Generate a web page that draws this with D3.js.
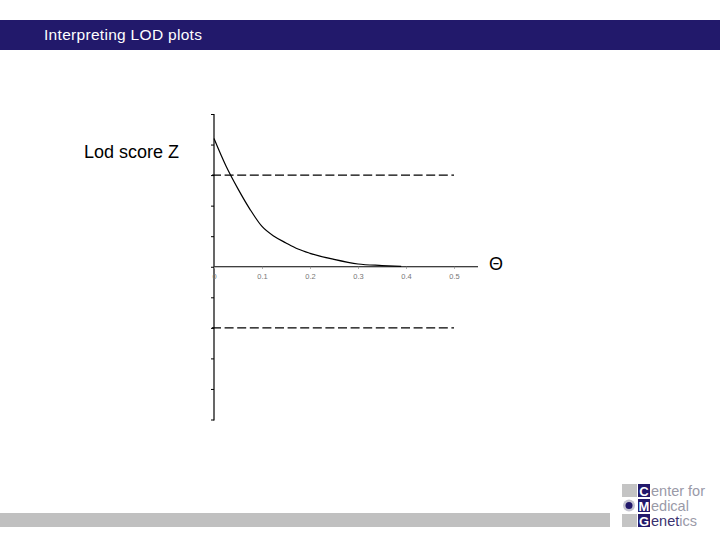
<!DOCTYPE html>
<html>
<head>
<meta charset="utf-8">
<script src="https://cdn.jsdelivr.net/npm/d3@7"></script>
<style>
  html, body { margin: 0; padding: 0; background: #fff; }
  svg { display: block; font-family: Arial, "Liberation Sans", sans-serif; }
</style>
</head>
<body>
<svg id="chart" width="720" height="540"></svg>
<script>
// ---- data ----
const title = "Interpreting LOD plots";
const yLabel = "Lod score Z";
const xLabel = "Θ";
const theta = [0, 0.025, 0.05, 0.075, 0.1, 0.125, 0.15, 0.175, 0.2, 0.25, 0.3, 0.35, 0.39];
const lod   = [4.2, 3.3, 2.55, 1.88, 1.32, 1.0, 0.78, 0.58, 0.44, 0.24, 0.09, 0.04, 0.01];
const thresholds = [3, -2];
const xTicks = [0, 0.1, 0.2, 0.3, 0.4, 0.5];
const xTickLabels = ["0", "0.1", "0.2", "0.3", "0.4", "0.5"];
const yTicks = [-5, -4, -3, -2, -1, 0, 1, 2, 3, 4, 5];
const logoLines = ["Center for", "Medical", "Genetics"];

const navy = "#22196b";
const svg = d3.select("#chart");

// header band
svg.append("rect").attr("x", 0).attr("y", 20).attr("width", 720).attr("height", 30).attr("fill", navy);
svg.append("text").attr("x", 44).attr("y", 40).attr("fill", "#fff")
  .attr("font-size", 15.5).attr("letter-spacing", 0.3).text(title);

// scales
const x = d3.scaleLinear().domain([0, 0.55]).range([214, 478]);
const y = d3.scaleLinear().domain([-5, 5]).range([419.5, 114]);

// y axis
const yAxis = svg.append("g").attr("transform", `translate(${x(0)},0)`)
  .call(d3.axisLeft(y).tickValues(yTicks).tickSize(3).tickSizeOuter(0).tickFormat(""));
yAxis.select(".domain").attr("stroke", "#000").attr("stroke-width", 1.2)
  .attr("d", `M0,${y(5)}V${y(-5) + 1}`);
yAxis.selectAll(".tick line").attr("stroke", "#000");

// x axis
const xAxis = svg.append("g").attr("transform", `translate(0,${y(0)})`)
  .call(d3.axisBottom(x).tickValues(xTicks).tickSize(2).tickSizeOuter(0)
    .tickFormat((d, i) => xTickLabels[i]));
xAxis.select(".domain").attr("stroke", "#000").attr("stroke-width", 1.2)
  .attr("d", `M${x(0)},0H${x(0.55)}`);
xAxis.selectAll(".tick line").attr("stroke", "#999");
xAxis.selectAll(".tick text").attr("fill", "#777").attr("font-size", 7.5)
  .attr("font-family", "Arial, 'Liberation Sans', sans-serif").attr("dy", "0.9em");

// threshold dashed lines
svg.selectAll(".thr").data(thresholds).enter().append("line")
  .attr("x1", x(0) - 2).attr("x2", x(0.5))
  .attr("y1", d => y(d)).attr("y2", d => y(d))
  .attr("stroke", "#000").attr("stroke-width", 1.1)
  .attr("stroke-dasharray", "9,3.6");

// curve
const pts = theta.map((t, i) => [t, lod[i]]);
svg.append("path").datum(pts)
  .attr("fill", "none").attr("stroke", "#000").attr("stroke-width", 1.2)
  .attr("d", d3.line().x(d => x(d[0])).y(d => y(d[1])).curve(d3.curveMonotoneX));

// labels
svg.append("text").attr("x", 84).attr("y", 158).attr("font-size", 18).attr("fill", "#000").text(yLabel);
svg.append("text").attr("x", 489).attr("y", 270).attr("font-size", 18).attr("fill", "#000").text(xLabel);

// footer bar
svg.append("rect").attr("x", 0).attr("y", 513).attr("width", 610).attr("height", 14).attr("fill", "#c0c0c0");

// logo
const lg = svg.append("g");
lg.append("rect").attr("x", 622).attr("y", 484).attr("width", 15).attr("height", 13).attr("fill", "#c4c4c4");
lg.append("rect").attr("x", 622).attr("y", 514).attr("width", 15).attr("height", 13).attr("fill", "#c4c4c4");
lg.append("circle").attr("cx", 629).attr("cy", 505.5).attr("r", 6).attr("fill", "#c4c4d0");
lg.append("circle").attr("cx", 629).attr("cy", 505.5).attr("r", 3.5).attr("fill", navy);
logoLines.forEach((s, i) => {
  const top = 484 + i * 15;
  lg.append("rect").attr("x", 638).attr("y", top).attr("width", 12).attr("height", 13).attr("fill", navy);
  lg.append("text").attr("x", 644).attr("y", top + 11.5).attr("text-anchor", "middle")
    .attr("font-size", 13).attr("font-weight", "bold").attr("fill", "#fff").text(s[0]);
  const t = lg.append("text").attr("x", 651).attr("y", top + 11.5).attr("font-size", 14.5).attr("fill", "#9a9aa8");
  if (i === 2) {
    t.append("tspan").attr("fill", "#3a3270").text("enet");
    t.append("tspan").text("ics");
  } else {
    t.text(s.slice(1));
  }
});
</script>
</body>
</html>
